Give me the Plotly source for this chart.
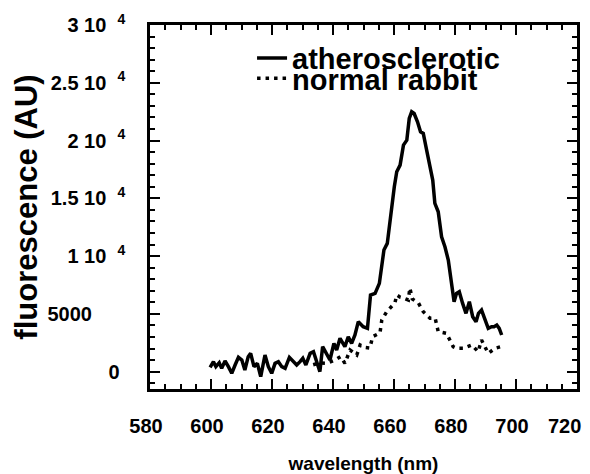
import plotly.graph_objects as go

# atherosclerotic spectrum (solid)
ath_nm = [599.7, 600.8, 601.6, 602.7, 603.5, 604.6, 605.7, 606.8, 607.9, 609.0,
          610.1, 611.1, 612.2, 613.0, 614.1, 615.2, 616.3, 617.7, 618.8, 619.9,
          621.0, 622.1, 623.2, 624.3, 625.7, 627.0, 628.1, 629.2, 630.1, 631.1,
          632.5, 633.6, 634.6, 635.7, 636.6, 637.9, 639.0, 640.3, 641.2, 642.3,
          643.9, 645.0, 646.1, 647.2, 648.3, 649.9, 651.3, 652.3, 653.8, 655.2,
          656.7, 657.8, 659.2, 660.1, 660.9, 662.0, 663.1, 664.2, 665.0, 665.8,
          666.6, 667.7, 668.7, 669.6, 670.7, 671.8, 672.7, 673.4, 674.5, 675.6,
          676.7, 677.8, 678.9, 679.7, 680.5, 681.4, 682.5, 683.6, 684.7, 685.8,
          686.9, 687.7, 688.7, 689.8, 690.9, 692.0, 692.8, 693.7, 694.5, 695.3]
ath_val = [375, 865, 432, 778, 288, 923, 432, -144, 577, 1240,
           1009, 144, 1297, 1586, 432, 721, -432, 1442, 432, -144,
           721, 865, 432, 288, 1240, 865, 577, 865, 1153, 577,
           1586, 1730, 1009, 0, 2162, 1586, 1009, 2451, 1874, 2883,
           2162, 3027, 2451, 3171, 4325, 3892, 3748, 6631, 6775, 7640,
           10523, 11100, 14271, 16001, 17298, 17875, 19604, 20037, 21911, 22487,
           22343, 21623, 20758, 20613, 19172, 17586, 16577, 14559, 13838, 11676,
           10811, 9658, 7640, 6054, 6775, 6919, 5910, 5045, 6054, 4757,
           4325, 5045, 5334, 4469, 3748, 3892, 3892, 4036, 3748, 3171]

# normal rabbit spectrum (dotted)
nor_nm = [633.5, 635.5, 637.9, 640.7, 642.5, 643.9, 645.6, 647.8, 648.9, 650.5,
          652.1, 653.0, 655.4, 656.0, 657.6, 660.3, 660.9, 662.0, 663.0, 664.7,
          665.2, 666.0, 668.0, 669.6, 671.8, 673.5, 674.5, 677.2, 679.4, 680.5,
          682.7, 684.3, 685.5, 687.6, 688.7, 690.9, 693.1, 695.0]
nor_val = [600, 750, 727, 1012, 1300, 727, 1877, 1445, 2310, 2100,
           2050, 3028, 3348, 4472, 5190, 5943, 6635, 6450, 6375, 6202,
           7240, 6300, 5943, 5190, 4620, 4620, 3460, 3320, 2160, 2020,
           2020, 2160, 2310, 1730, 2740, 1590, 2020, 2160]

NB = "\u00a0"
x_ticks = [580, 600, 620, 640, 660, 680, 700, 720]
x_ticktext = ["580", "600", "620", "640", "660", "680", "700", "720" + NB * 3]
y_ticks = [0, 5000, 10000, 15000, 20000, 25000, 30000]
y_ticktext = ["0" + NB, "5000" + NB * 6,
              "1 10" + NB + " <sup>4</sup>", "1.5 10" + NB + " <sup>4</sup>",
              "2 10" + NB + " <sup>4</sup>", "2.5 10" + NB + " <sup>4</sup>",
              "3 10" + NB + " <sup>4</sup>"]

FONT = "Liberation Sans, Arial, Helvetica, sans-serif"

fig = go.Figure()
fig.add_trace(go.Scatter(x=ath_nm, y=ath_val, mode="lines", name="atherosclerotic",
                         line=dict(color="black", width=3.5), legend="legend"))
fig.add_trace(go.Scatter(x=nor_nm, y=nor_val, mode="lines", name="normal rabbit",
                         line=dict(color="black", width=3.5, dash="3.5px,5px"),
                         legend="legend2"))

axis_common = dict(showline=True, linecolor="black", linewidth=2.5, mirror="allticks",
                   ticks="inside", ticklen=10, tickwidth=1.5, tickcolor="black",
                   showgrid=False, zeroline=False, automargin=False,
                   layer="above traces",
                   tickfont=dict(family=FONT, size=20, color="black", weight="bold"))

fig.update_xaxes(range=[580, 720], tickvals=x_ticks, ticktext=x_ticktext,
                 ticklabelstandoff=17, ticklabelshift=-4, ticklabeloverflow="allow",
                 minor=dict(ticks="inside", ticklen=5, dtick=5, tickcolor="black", tickwidth=1.5),
                 title=dict(text="wavelength (nm)", standoff=26,
                            font=dict(family=FONT, size=19, color="black", weight="bold")),
                 **axis_common)
fig.update_yaxes(range=[-1500, 30000], tickvals=y_ticks, ticktext=y_ticktext,
                 ticklabelstandoff=18, ticklabeloverflow="allow",
                 minor=dict(ticks="inside", ticklen=5, dtick=1000, tickcolor="black", tickwidth=1.5),
                 title=dict(text="fluorescence (AU)", standoff=1,
                            font=dict(family=FONT, size=31, color="black", weight="bold")),
                 **axis_common)

legend_font = dict(family=FONT, size=29, color="black", weight="bold")
fig.update_layout(
    width=582, height=466,
    margin=dict(l=142, r=13, t=17, b=85),
    paper_bgcolor="white", plot_bgcolor="white",
    showlegend=True,
    legend=dict(x=0.239, y=0.909, xanchor="left", yanchor="middle", font=legend_font,
                bgcolor="rgba(0,0,0,0)", borderwidth=0, itemwidth=30),
    legend2=dict(x=0.239, y=0.853, xanchor="left", yanchor="middle", font=legend_font,
                 bgcolor="rgba(0,0,0,0)", borderwidth=0, itemwidth=30),
)

fig.write_html("out.html")
